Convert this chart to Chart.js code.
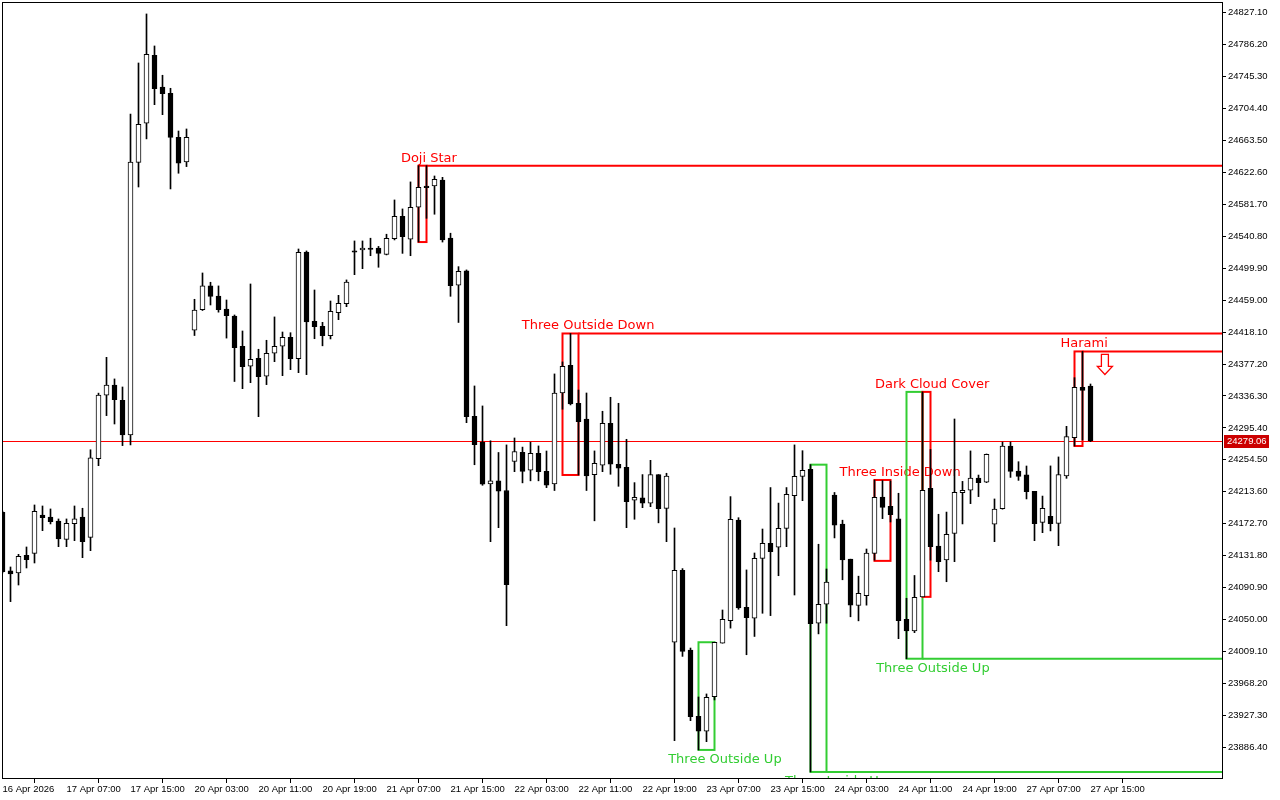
<!DOCTYPE html>
<html>
<head>
<meta charset="utf-8">
<script src="https://cdn.jsdelivr.net/npm/chart.js@4.4.1/dist/chart.umd.min.js"></script>
<style>
html,body{margin:0;padding:0;background:#fff;}
#wrap{width:1280px;height:800px;position:relative;}
canvas{display:block;}
</style>
</head>
<body>
<div id="wrap"><canvas id="c" width="1280" height="800" style="width:1280px;height:800px"></canvas></div>
<script>
// ---------------- DATA ----------------
const opens = [24187.3,24112.2,24109.6,24132.3,24134.8,24183.9,24181.3,24176.2,24152.6,24172.7,
24181.3,24155.2,24255.9,24337.3,24350.1,24330.8,24286.3,24635.4,24685.5,24772.6,
24732.0,24723.9,24667.5,24635.9,24420.4,24446.9,24477.2,24464.3,24447.7,24438.7,
24399.9,24374.3,24384.6,24361.5,24391.0,24399.9,24411.5,24384.1,24520.7,24431.9,
24425.5,24413.5,24443.0,24454.5,24522.0,24523.2,24525.8,24525.8,24517.7,24537.8,
24566.4,24537.0,24577.9,24605.2,24605.2,24612.8,24538.6,24478.1,24496.4,24310.3,
24277.0,24223.7,24227.6,24215.2,24252.4,24264.2,24241.1,24262.7,24239.8,24223.7,
24340.1,24375.6,24326.9,24306.8,24235.6,24247.6,24301.3,24248.8,24244.9,24202.7,
24205.7,24198.9,24235.6,24192.3,24020.9,24113.1,24011.0,23926.1,23906.9,23951.2,
24019.7,24048.6,24177.2,24065.7,24051.6,24128.4,24147.6,24142.5,24166.8,24208.6,
24233.3,24242.4,24045.2,24069.5,24209.2,24172.1,24127.3,24068.0,24080.4,24134.8,
24206.9,24195.0,24178.8,24050.4,24035.5,24079.0,24218.1,24144.2,24126.4,24160.2,
24212.3,24215.6,24231.0,24225.8,24172.0,24192.0,24272.2,24240.2,24235.3,24214.2,
24174.5,24182.3,24173.2,24233.8,24282.9,24347.4,24349.1];
const highs = [24189.0,24117.3,24133.5,24142.9,24196.7,24195.4,24191.6,24178.8,24178.8,24195.4,
24192.5,24267.4,24339.9,24385.8,24358.1,24347.8,24697.4,24762.7,24825.5,24784.5,
24747.0,24730.3,24675.6,24678.2,24460.1,24493.8,24481.9,24477.2,24459.2,24440.0,
24419.5,24479.7,24396.1,24407.6,24437.5,24418.2,24417.3,24524.5,24522.0,24472.0,
24430.6,24457.9,24465.2,24484.9,24534.8,24534.8,24538.3,24527.8,24543.4,24587.3,
24575.8,24610.4,24631.2,24631.2,24618.0,24616.3,24544.7,24501.9,24497.7,24349.1,
24323.5,24278.9,24263.9,24273.6,24282.5,24270.8,24277.1,24272.3,24265.8,24364.5,
24379.9,24416.3,24343.9,24340.1,24265.9,24316.7,24334.6,24326.9,24280.8,24225.3,
24235.6,24253.9,24235.6,24237.3,24167.2,24115.2,24013.5,23950.8,23954.7,24020.9,
24062.2,24207.4,24180.4,24113.5,24135.2,24165.9,24219.0,24199.1,24219.0,24273.6,
24266.2,24248.3,24146.4,24114.7,24212.7,24177.2,24127.3,24105.5,24140.3,24228.7,
24227.9,24227.5,24211.7,24077.2,24106.4,24341.5,24267.8,24184.8,24187.6,24306.8,
24226.9,24265.9,24235.0,24262.0,24204.4,24277.3,24277.3,24252.1,24246.6,24214.2,
24208.1,24246.7,24258.2,24297.4,24359.7,24393.3,24351.6];
const lows = [24109.6,24072.9,24094.2,24116.0,24122.4,24163.8,24172.4,24143.3,24143.3,24151.0,
24129.2,24138.2,24247.0,24311.1,24300.4,24272.7,24273.6,24603.9,24665.5,24709.3,
24696.5,24601.4,24621.5,24630.0,24413.7,24445.7,24452.8,24443.6,24410.4,24354.8,
24345.6,24353.3,24309.8,24350.8,24380.2,24362.3,24370.0,24366.1,24363.6,24409.6,
24400.5,24409.3,24434.0,24450.6,24491.6,24499.3,24515.9,24501.1,24516.9,24536.1,
24518.9,24515.9,24533.4,24563.8,24569.0,24533.4,24463.9,24430.4,24302.1,24248.2,
24221.9,24149.7,24167.6,24042.1,24239.3,24225.0,24227.6,24227.6,24218.9,24215.2,
24319.3,24324.8,24235.1,24215.2,24176.4,24239.3,24236.0,24220.6,24167.6,24178.4,
24193.2,24194.5,24173.8,24149.7,23894.9,24002.8,23920.5,23883.0,23893.6,23947.0,
24019.7,24039.0,24063.1,24004.9,24028.3,24058.0,24055.0,24106.1,24143.3,24081.4,
24202.2,23854.8,24031.6,24045.2,24154.5,24100.9,24053.5,24048.3,24068.4,24126.0,
24179.2,24174.9,24025.5,23999.8,24033.2,24079.0,24126.0,24111.3,24098.4,24124.1,
24172.4,24198.4,24207.4,24225.3,24149.7,24191.3,24232.0,24228.2,24204.4,24151.0,
24161.2,24163.5,24144.6,24230.8,24272.2,24279.9,24277.8];
const closes = [24111.3,24108.3,24131.0,24126.7,24188.6,24180.4,24175.3,24153.3,24173.2,24178.8,
24149.7,24257.2,24337.3,24350.1,24331.5,24286.3,24635.9,24684.2,24773.9,24729.8,
24723.4,24667.5,24634.3,24667.5,24446.2,24477.2,24463.9,24446.9,24439.2,24398.1,
24373.8,24383.3,24361.0,24391.0,24399.9,24411.5,24384.1,24520.3,24431.0,24425.0,
24413.5,24444.7,24455.0,24482.0,24520.3,24525.8,24524.0,24518.9,24538.3,24566.4,
24540.3,24577.9,24603.5,24603.0,24613.8,24536.1,24477.6,24496.0,24309.8,24273.9,
24223.2,24227.6,24214.3,24094.5,24265.2,24239.8,24262.7,24239.3,24221.9,24340.1,
24374.3,24326.0,24303.3,24233.8,24250.0,24301.3,24248.8,24243.7,24201.0,24206.6,
24198.9,24235.6,24191.8,24233.8,24113.1,24009.2,23925.6,23906.9,23950.4,24020.9,
24050.4,24178.4,24064.8,24052.4,24128.4,24147.6,24136.9,24166.8,24210.4,24233.3,
24241.1,24044.7,24069.5,24098.1,24170.8,24126.4,24068.4,24083.4,24135.2,24206.6,
24193.7,24184.3,24048.6,24035.5,24078.5,24215.6,24143.3,24124.1,24159.0,24212.8,
24215.4,24231.0,24225.3,24261.6,24191.3,24272.2,24239.7,24233.3,24213.7,24172.7,
24192.5,24172.7,24235.6,24284.2,24347.4,24343.5,24279.06];

// x-axis tick labels (every 8th bar) and y-axis tick values
const xTickLabels = ["16 Apr 2026","17 Apr 07:00","17 Apr 15:00","20 Apr 03:00","20 Apr 11:00",
"20 Apr 19:00","21 Apr 07:00","21 Apr 15:00","22 Apr 03:00","22 Apr 11:00","22 Apr 19:00",
"23 Apr 07:00","23 Apr 15:00","24 Apr 03:00","24 Apr 11:00","24 Apr 19:00","27 Apr 07:00","27 Apr 15:00"];
const xTickBars = [0,8,16,24,32,40,48,56,64,72,80,88,96,104,112,120,128,136];
const yTickValues = [24827.10,24786.20,24745.30,24704.40,24663.50,24622.60,24581.70,24540.80,
24499.90,24459.00,24418.10,24377.20,24336.30,24295.40,24254.50,24213.60,24172.70,24131.80,
24090.90,24050.00,24009.10,23968.20,23927.30,23886.40];

// candlestick patterns
const patternNames  = ["Doji Star","Three Outside Down","Three Outside Up","Three Inside Up","Three Inside Down","Three Outside Up","Dark Cloud Cover","Harami"];
const patternFirst  = [52,70,87,101,109,113,115,134];
const patternLast   = [53,72,89,103,111,115,116,135];
const patternHigh   = [24631.2,24416.3,24020.9,24248.3,24228.7,24341.5,24341.5,24393.3];
const patternLow    = [24533.4,24235.1,23883.0,23854.8,24125.1,23999.8,24079.0,24272.2];
const patternBull   = [false,false,true,true,false,true,false,false];
const patternLevel  = [true,true,false,true,false,true,false,true];
const lastPrice = 24279.06;

// ---------------- LAYOUT / STYLE ----------------
const labelCenterBar = [53.3,73.2,90.3,104.2,112.2,116.3,116.2,135.2];
const arrowBar = 137.8;
const RED = '#ff0000', GREEN = '#32cd32';
const AXIS_FAMILY = '"Liberation Sans", Arial, sans-serif';
const AXIS_SIZE = 9.5;
const AXIS_FONT = AXIS_SIZE + 'px ' + AXIS_FAMILY;
const NOTE_FONT = '13px "DejaVu Sans", Verdana, sans-serif';

const n = opens.length;
const idx = Array.from({length:n}, (_, i) => i);
const bodyColors = idx.map(i => closes[i] >= opens[i] ? '#ffffff' : '#000000');

const patternPlugin = {
  id: 'patterns',
  beforeDatasetsDraw(chart) {
    const {ctx, chartArea: a, scales: {x, y}} = chart;
    ctx.save();
    ctx.beginPath(); ctx.rect(a.left, a.top, a.right - a.left, a.bottom - a.top); ctx.clip();
    // current price line
    const py = Math.round(y.getPixelForValue(lastPrice)) + 0.5;
    ctx.strokeStyle = '#ff0000'; ctx.lineWidth = 1;
    ctx.beginPath(); ctx.moveTo(a.left, py); ctx.lineTo(a.right, py); ctx.stroke();
    ctx.lineWidth = 2;
    patternNames.forEach((name, k) => {
      const col = patternBull[k] ? GREEN : RED;
      const x0 = x.getPixelForValue(patternFirst[k]);
      const x1 = x.getPixelForValue(patternLast[k]);
      const yt = y.getPixelForValue(patternHigh[k]);
      const yb = y.getPixelForValue(patternLow[k]);
      ctx.strokeStyle = col;
      ctx.strokeRect(x0, yt, x1 - x0, yb - yt);
      if (patternLevel[k]) {
        const ly = patternBull[k] ? yb : yt;
        ctx.beginPath(); ctx.moveTo(x1, ly); ctx.lineTo(a.right, ly); ctx.stroke();
      }
      ctx.fillStyle = col;
      ctx.font = NOTE_FONT;
      ctx.textAlign = 'center';
      ctx.textBaseline = 'alphabetic';
      const tx = x.getPixelForValue(labelCenterBar[k]);
      const ty = patternBull[k] ? yb + 13 : yt - 4;
      ctx.fillText(name, tx, ty);
    });
    // hollow down arrow under the Harami level
    const k = patternNames.length - 1;
    const ax = x.getPixelForValue(arrowBar);
    const at = y.getPixelForValue(patternHigh[k]) + 3;
    ctx.lineWidth = 1.3; ctx.strokeStyle = RED; ctx.fillStyle = '#fff';
    ctx.beginPath();
    ctx.moveTo(ax - 3.5, at); ctx.lineTo(ax + 3.5, at); ctx.lineTo(ax + 3.5, at + 12);
    ctx.lineTo(ax + 7.5, at + 12); ctx.lineTo(ax, at + 20); ctx.lineTo(ax - 7.5, at + 12);
    ctx.lineTo(ax - 3.5, at + 12); ctx.closePath();
    ctx.fill(); ctx.stroke();
    ctx.restore();
  },
  afterDraw(chart) {
    const {ctx, chartArea: a, scales: {y}} = chart;
    ctx.save();
    ctx.strokeStyle = '#000'; ctx.lineWidth = 1;
    ctx.strokeRect(a.left + 0.5, a.top + 0.5, a.right - a.left, a.bottom - a.top);
    // current price label
    const py = Math.round(y.getPixelForValue(lastPrice));
    ctx.fillStyle = '#cc0000';
    ctx.fillRect(a.right + 2, py - 6, 45, 13);
    ctx.fillStyle = '#fff';
    ctx.font = AXIS_FONT; ctx.textAlign = 'left'; ctx.textBaseline = 'middle';
    ctx.fillText(lastPrice.toFixed(2), a.right + 5, py + 0.5);
    ctx.restore();
  }
};

new Chart(document.getElementById('c'), {
  type: 'bar',
  data: {
    datasets: [
      { label: 'bodies', data: idx.map(i => ({x: i, y: [opens[i], closes[i]]})),
        backgroundColor: bodyColors, borderColor: '#000', borderWidth: 1, borderSkipped: false,
        barThickness: 5, grouped: false, order: 1, minBarLength: 1, clip: 0 },
      { label: 'wicks', data: idx.map(i => ({x: i, y: [lows[i], highs[i]]})),
        backgroundColor: '#000', borderWidth: 0, barThickness: 1, grouped: false, order: 2, clip: 0 }
    ]
  },
  options: {
    responsive: false, animation: false, devicePixelRatio: 1,
    layout: { padding: { left: 2, top: 2, right: 0, bottom: 0 } },
    plugins: { legend: { display: false }, tooltip: { enabled: false } },
    scales: {
      x: {
        type: 'linear', min: -0.0625, max: 152.4375, offset: false,
        grid: { display: true, drawOnChartArea: false, drawTicks: true, tickLength: 5, color: '#000' },
        border: { display: false },
        afterBuildTicks: s => { s.ticks = xTickBars.map(v => ({value: v})); },
        afterFit: s => { s.height = 22; s.paddingLeft = 0; s.paddingRight = 0; },
        ticks: { autoSkip: false, maxRotation: 0, align: 'start', padding: 1, color: '#000',
                 font: { family: AXIS_FAMILY, size: AXIS_SIZE },
                 callback: (v) => { const j = xTickBars.indexOf(v); return j >= 0 ? xTickLabels[j] : ''; } }
      },
      y: {
        position: 'right', min: 23847.05, max: 24840.80,
        grid: { display: true, drawOnChartArea: false, drawTicks: true, tickLength: 4, color: '#000' },
        border: { display: false },
        afterBuildTicks: s => { s.ticks = yTickValues.map(v => ({value: v})); },
        afterFit: s => { s.width = 58; s.paddingTop = 0; s.paddingBottom = 0; },
        ticks: { autoSkip: false, padding: 2, color: '#000',
                 font: { family: AXIS_FAMILY, size: AXIS_SIZE },
                 callback: v => Number(v).toFixed(2) }
      }
    }
  },
  plugins: [patternPlugin]
});
</script>
</body>
</html>
